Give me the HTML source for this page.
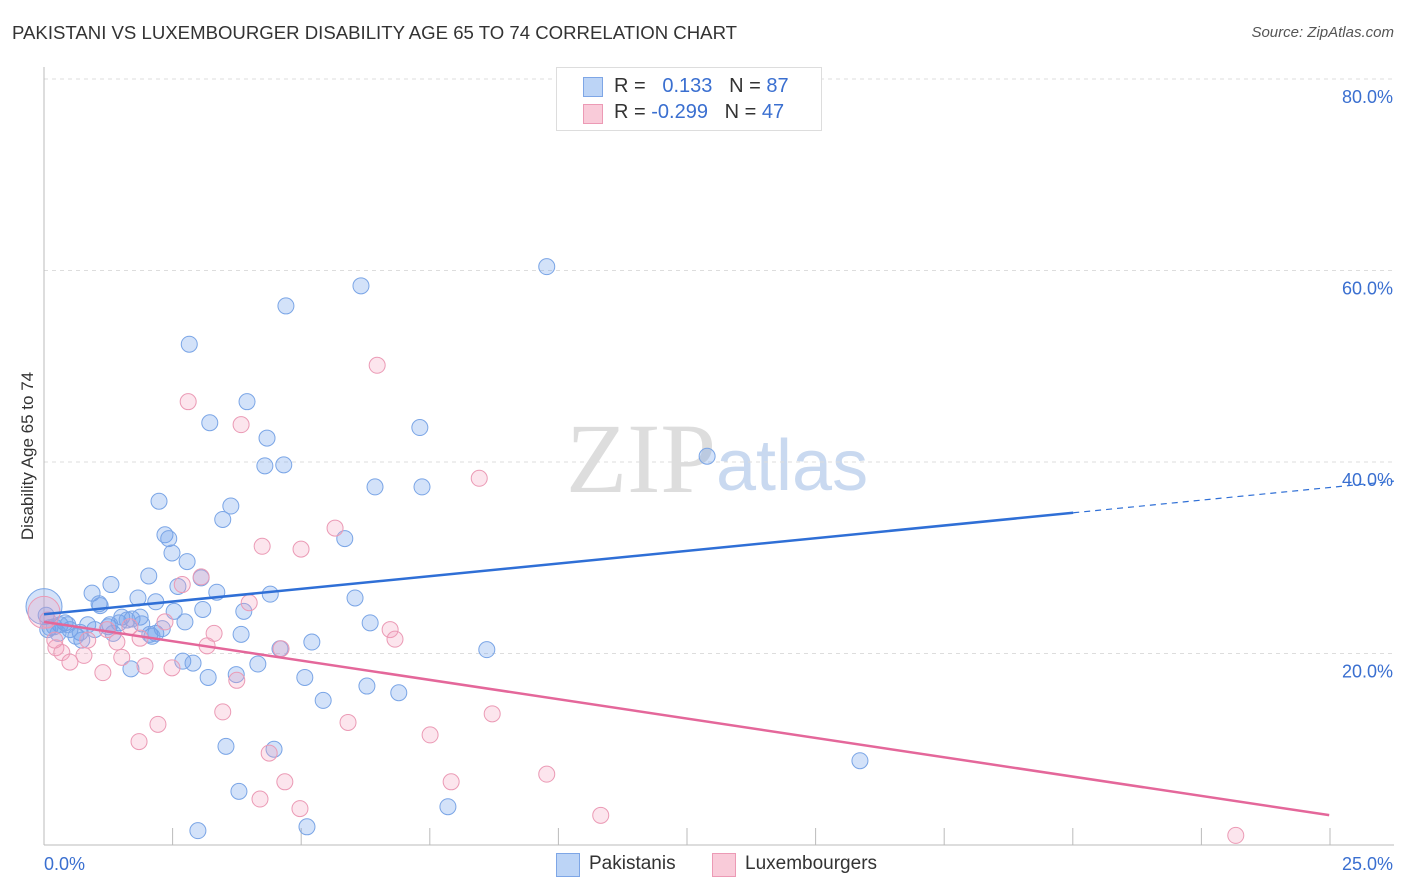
<!DOCTYPE html>
<html><head><meta charset="utf-8">
<style>
body{margin:0;background:#fff;font-family:"Liberation Sans",sans-serif;}
#wrap{position:relative;width:1406px;height:892px;overflow:hidden;}
.t{position:absolute;white-space:nowrap;}
</style></head>
<body>
<div id="wrap">
<div class="t" style="left:12px;top:22px;font-size:18.6px;color:#333;">PAKISTANI VS LUXEMBOURGER DISABILITY AGE 65 TO 74 CORRELATION CHART</div>
<div class="t" style="right:12px;top:24px;font-size:15px;color:#555;font-style:italic;">Source: ZipAtlas.com</div>
<svg id="svg" width="1406" height="892" style="position:absolute;left:0;top:0"></svg>
</div>
<script>
const blueX=[9.31,5.87,4.48,2.69,3.76,3.07,6.96,4.13,4.09,4.44,12.28,6.13,7.0,2.13,3.46,3.31,2.24,2.31,5.57,2.37,2.65,1.94,1.24,2.91,0.89,2.48,3.2,4.19,1.74,2.07,1.02,1.04,5.76,3.7,2.94,2.41,1.44,1.63,1.78,1.39,2.61,6.04,0.81,0.39,0.3,0.11,0.07,0.19,0.48,0.67,1.19,1.28,1.96,2.07,2.19,3.65,4.96,4.37,8.2,0.7,0.59,2.57,2.76,3.96,1.61,3.04,3.56,4.83,5.98,6.57,5.17,3.37,4.26,3.61,7.48,15.11,2.85,4.87,0.04,1.22,1.81,0.94,0.26,0.44,1.54,2.0];
const blueY=[60.4,58.4,56.3,52.3,46.3,44.1,43.6,42.5,39.6,39.7,40.6,37.4,37.4,35.9,35.4,34.0,32.4,32.0,32.0,30.5,29.6,28.1,27.2,27.9,26.3,27.0,26.4,26.2,25.8,25.4,25.2,25.0,25.8,24.4,24.6,24.4,23.8,23.6,23.8,23.2,23.3,23.2,23.0,23.2,23.0,22.7,22.5,22.8,22.5,22.2,22.8,22.1,22.0,22.1,22.6,22.0,21.2,20.5,20.4,21.4,21.8,19.2,19.0,18.9,18.4,17.5,17.8,17.5,16.6,15.9,15.1,10.3,10.0,5.6,4.0,8.8,1.5,1.9,24.0,23.0,23.1,22.5,22.1,23.0,23.5,21.8];
const pinkX=[6.17,2.67,3.65,8.06,5.39,4.04,4.76,2.91,2.56,3.8,2.24,3.15,6.41,6.5,4.39,3.02,1.35,0.22,0.74,0.33,0.48,1.44,1.87,2.37,1.09,3.57,2.11,5.63,8.3,3.31,1.76,7.15,4.17,4.46,7.54,9.31,4.0,4.74,10.31,22.07,0.07,1.17,1.59,1.78,0.81,0.2];
const pinkY=[50.1,46.3,43.9,38.3,33.1,31.2,30.9,28.0,27.2,25.3,23.3,22.1,22.5,21.5,20.5,20.8,21.2,20.6,19.8,20.1,19.1,19.6,18.7,18.5,18.0,17.2,12.6,12.8,13.7,13.9,10.8,11.5,9.6,6.6,6.6,7.4,4.8,3.8,3.1,1.0,23.5,22.5,22.8,21.6,21.4,21.4];
const yTicks=[20,40,60,80];
const yTickLabels=["20.0%","40.0%","60.0%","80.0%"];
const xTickLabels=["0.0%","25.0%"];
const blueLine={intercept:24.1,slope:0.556,solidEnd:19.06,end:25};
const pinkLine={intercept:23.3,slope:-0.848,end:23.8};

const X0=44,X1=1394,Y0=845;
const sx=v=>X0+v*(X1-X0)/25;
const sy=v=>Y0-v*9.575;
const svg=document.getElementById('svg');
const NS='http://www.w3.org/2000/svg';
function mk(tag,attrs,parent){const e=document.createElementNS(NS,tag);for(const k in attrs)e.setAttribute(k,attrs[k]);(parent||svg).appendChild(e);return e;}

let wm=mk('text',{x:716,y:492,'text-anchor':'end','font-size':100,fill:'#ddd','font-family':'Liberation Serif'});


wm.textContent='ZIP';
let wm2=mk('text',{x:716,y:490,'font-size':72,fill:'#c9d9f0','font-family':'Liberation Sans'});


wm2.textContent='atlas';

yTicks.forEach((t,i)=>{
  let g=mk('line',{x1:X0,x2:X1,y1:sy(t),y2:sy(t),stroke:'#ddd','stroke-dasharray':'4,4'});
  
  
  let l=mk('text',{x:1393,y:sy(t)+24,'text-anchor':'end','font-size':18,fill:'#3a6fd0'});
  
  
  l.textContent=yTickLabels[i];
});
let ya=mk('line',{x1:X0,x2:X0,y1:67,y2:Y0,stroke:'#bbb'});


let xa=mk('line',{x1:X0,x2:X1,y1:Y0,y2:Y0,stroke:'#bbb'});


for(let i=1;i<=10;i++){
  const px=X0+i*128.6;
  let tk=mk('line',{x1:px,x2:px,y1:Y0,y2:Y0-17,stroke:'#bbb'});
  
  
}
let xl0=mk('text',{x:44,y:870,'font-size':18,fill:'#3a6fd0'});


xl0.textContent=xTickLabels[0];
let xl1=mk('text',{x:1393,y:870,'text-anchor':'end','font-size':18,fill:'#3a6fd0'});


xl1.textContent=xTickLabels[1];
let yt=mk('text',{x:33,y:456,'text-anchor':'middle','font-size':17,fill:'#333',transform:'rotate(-90 33 456)'});


yt.textContent='Disability Age 65 to 74';

function pts(xs,ys,fill,stroke,name){
  xs.forEach((x,i)=>{
    let c=mk('circle',{cx:sx(x),cy:sy(ys[i]),r:8,fill:fill,stroke:stroke,'stroke-width':1});
    
    
  });
}
pts(blueX,blueY,'rgba(110,160,235,0.3)','#7aa5e6','pakistani-point');
pts(pinkX,pinkY,'rgba(245,160,190,0.28)','#eb9ab5','luxembourger-point');
let bb=mk('circle',{cx:sx(0),cy:sy(24.9),r:18,fill:'rgba(110,160,235,0.3)',stroke:'#7aa5e6'});


let pb=mk('circle',{cx:sx(0),cy:sy(24.3),r:16,fill:'rgba(245,160,190,0.28)',stroke:'#eb9ab5'});



const bl=x=>blueLine.intercept+blueLine.slope*x;
let b1=mk('line',{x1:sx(0),y1:sy(bl(0)),x2:sx(blueLine.solidEnd),y2:sy(bl(blueLine.solidEnd)),stroke:'#2f6fd6','stroke-width':2.5});


let b2=mk('line',{x1:sx(blueLine.solidEnd),y1:sy(bl(blueLine.solidEnd)),x2:sx(blueLine.end),y2:sy(bl(blueLine.end)),stroke:'#2f6fd6','stroke-width':1.2,'stroke-dasharray':'6,5'});


const pl=x=>pinkLine.intercept+pinkLine.slope*x;
let p1=mk('line',{x1:sx(0),y1:sy(pl(0)),x2:sx(pinkLine.end),y2:sy(pl(pinkLine.end)),stroke:'#e4679a','stroke-width':2.5});


</script>

<div style="position:absolute;left:556px;top:67px;width:264px;height:62px;border:1px solid #ddd;background:#fff;font-size:20px;">
  <div style="position:absolute;left:26px;top:9px;width:18px;height:18px;background:#bcd4f6;border:1px solid #7ea6e6;"></div>
  <div class="t" style="left:57px;top:7px;color:#333;">R = &nbsp;&nbsp;<span style="color:#3a6fd0">0.133</span> &nbsp;&nbsp;N = <span style="color:#3a6fd0">87</span></div>
  <div style="position:absolute;left:26px;top:36px;width:18px;height:18px;background:#f9cbd9;border:1px solid #ec9ab5;"></div>
  <div class="t" style="left:57px;top:33px;color:#333;">R = <span style="color:#3a6fd0">-0.299</span> &nbsp;&nbsp;N = <span style="color:#3a6fd0">47</span></div>
</div>
<div style="position:absolute;left:556px;top:852px;font-size:19px;color:#333;">
  <div style="position:absolute;left:0;top:1px;width:22px;height:22px;background:#bcd4f6;border:1px solid #7ea6e6;"></div>
  <div class="t" style="left:33px;top:1px;">Pakistanis</div>
  <div style="position:absolute;left:156px;top:1px;width:22px;height:22px;background:#f9cbd9;border:1px solid #ec9ab5;"></div>
  <div class="t" style="left:189px;top:1px;">Luxembourgers</div>
</div>
</body></html>
